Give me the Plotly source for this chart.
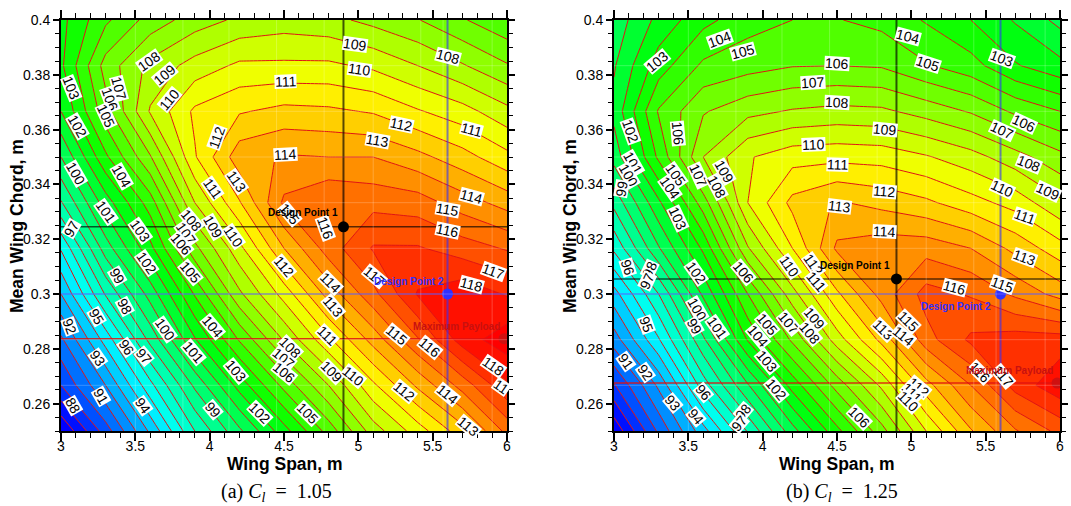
import plotly.graph_objects as go

SPAN = [3.0, 3.3, 3.6, 3.9, 4.2, 4.5, 4.8, 5.1, 5.4, 5.7, 6.0]
CHORD = [0.25, 0.26667, 0.28333, 0.30, 0.31667, 0.33333, 0.35, 0.36667, 0.38333, 0.40]

Z_A = [
    [86, 89.5, 93.2, 97, 99.8, 102.6, 105.4, 108.5, 110.5, 112.6, 115.3],
    [89, 92, 95.7, 99.2, 102.4, 105.3, 108, 110.8, 113.2, 115.4, 117.8],
    [90.8, 94.4, 98.3, 101.9, 105.1, 108.1, 110.8, 113.4, 115.9, 118.5, 119.6],
    [93, 97.1, 100.4, 104.1, 107.8, 110.4, 113.4, 115.7, 118.1, 118.7, 117.9],
    [95.1, 99.5, 102.7, 106.7, 109.7, 113, 115.5, 117.1, 117.1, 116.5, 115.9],
    [97.9, 101.5, 104.5, 109, 111.9, 115.2, 116, 115.7, 115.5, 114.5, 113.6],
    [100, 103.8, 106.9, 110.9, 113.6, 114.1, 114, 114, 113.3, 112.4, 111.3],
    [102, 105.6, 109.1, 111.2, 111.9, 112.3, 112.2, 111.9, 111.1, 110.4, 109.3],
    [102.8, 106.4, 108.3, 109.4, 110.2, 110.2, 110.2, 109.8, 109, 108.1, 107.1],
    [102.7, 104.8, 106.4, 107.5, 108.2, 108.5, 108.3, 107.7, 107.05, 106.1, 105.2],
]
Z_B = [
    [86.2, 90.2, 93.6, 97.1, 100.6, 103.7, 106.6, 110, 112.9, 114.9, 116.3],
    [88.9, 92.2, 96.5, 99.9, 103.4, 106.4, 109.2, 112.6, 115, 117.4, 118.7],
    [91.5, 94.9, 98.8, 103.1, 106.2, 109.5, 112.3, 115.6, 117.2, 117.5, 117.5],
    [93.6, 97, 101.2, 105, 108.6, 111.8, 114.4, 116.4, 115.9, 114.8, 113.6],
    [96.2, 99.9, 103.2, 107.9, 111, 114.2, 114.6, 114.6, 114, 112.7, 111.4],
    [98.3, 101.8, 105.5, 110, 112.3, 113.1, 112.7, 112.2, 111.4, 110.6, 109.2],
    [100.4, 104.2, 108, 109.9, 110.6, 110.7, 110.6, 110.1, 109.4, 108.4, 107.3],
    [101.3, 105.1, 106.9, 107.7, 108.1, 108.3, 108.2, 107.6, 106.9, 105.8, 105],
    [100.9, 103.5, 105.2, 105.6, 105.95, 106, 105.9, 105.1, 104.4, 103.1, 102.3],
    [100.4, 102.3, 103.7, 104.6, 105, 105.05, 104.7, 103.9, 103, 101.9, 100.7],
]

DESIGN1_A = (4.9, 0.3245)
DESIGN2_A = (5.6, 0.30)
MAXPAY_A = (5.98, 0.2837)
DESIGN1_B = (4.9, 0.3055)
DESIGN2_B = (5.6, 0.30)
MAXPAY_B = (5.98, 0.2675)

# text, x, y, angle
LABELS_A = [
    ("108",3.59,.385,-35),("109",3.70,.380,-40),("110",3.73,.371,-50),("111",4.51,.3775,-2),
    ("112",4.05,.357,-70),("112",5.29,.362,12),("113",5.13,.356,10),("113",4.18,.341,55),
    ("111",4.02,.3385,55),("110",4.16,.321,55),("109",4.02,.3245,60),("108",3.88,.327,50),
    ("107",3.84,.322,55),("106",3.81,.318,50),("110",5.01,.382,8),("109",4.98,.391,8),
    ("108",5.60,.3866,15),("111",5.76,.36,15),("107",3.39,.375,75),("106",3.33,.371,70),
    ("105",3.30,.365,65),("104",3.41,.343,60),("103",3.07,.375,68),("103",3.53,.323,55),
    ("102",3.11,.361,60),("101",3.30,.33,55),("100",3.10,.344,60),("97",3.07,.324,-60),
    ("100",3.70,.287,55),("101",3.89,.2785,50),("102",3.58,.3113,55),("103",4.18,.2718,50),
    ("104",4.02,.2882,50),("105",3.87,.3077,50),("105",4.66,.2565,45),("102",4.34,.2565,45),
    ("108",4.54,.2803,45),("107",4.50,.2766,40),("106",4.50,.2712,40),("109",4.82,.2718,45),
    ("110",4.97,.27,40),("111",4.79,.285,45),("112",4.50,.3101,50),("112",5.31,.2645,40),
    ("113",4.83,.2955,50),("113",5.74,.2517,40),("114",4.81,.3041,45),("114",5.6,.2633,40),
    ("115",5.26,.2847,40),("116",5.48,.2803,40),("117",5.11,.3064,40),("117",5.91,.3083,20),
    ("118",5.76,.3034,15),("118",5.91,.2736,35),("11",5.96,.2663,35),("116",5.60,.323,12),
    ("115",5.60,.3307,10),("114",5.76,.3355,15),("114",4.51,.351,-3),("116",4.78,.324,70),
    ("115",4.54,.329,50),("99",3.38,.3064,60),("98",3.43,.2955,62),("97",3.56,.2772,50),
    ("96",3.44,.2803,55),("95",3.24,.2919,60),("94",3.55,.2593,55),("93",3.25,.2766,55),
    ("92",3.06,.2882,70),("91",3.27,.2626,60),("88",3.08,.2593,60),("99",4.02,.2578,50),
]
LABELS_B = [
    ("103",3.29,.385,-40),("104",3.71,.3927,-20),("105",3.87,.3884,-15),("106",4.5,.3842,3),
    ("107",4.34,.3772,-3),("108",4.5,.3698,3),("109",4.82,.3601,5),("110",4.34,.3544,-2),
    ("111",4.5,.3471,2),("112",4.82,.3373,5),("113",4.52,.3319,7),("114",4.82,.3227,3),
    ("104",4.98,.394,15),("105",5.11,.3842,18),("103",5.61,.386,20),("106",5.76,.3623,25),
    ("107",5.61,.3595,25),("108",5.79,.3477,22),("110",5.61,.3386,25),("109",5.92,.3374,25),
    ("111",5.76,.3282,20),("106",3.43,.3586,85),("102",3.11,.3592,70),("101",3.13,.3477,60),
    ("100",3.10,.3434,60),("99",3.05,.3386,-80),("105",3.42,.3434,55),("104",3.38,.3386,55),
    ("103",3.43,.3276,65),("107",3.57,.3434,65),("108",3.69,.3392,62),("109",3.74,.3446,60),
    ("96",3.09,.3095,72),("98",3.24,.3089,-65),("97",3.22,.3047,-65),("102",3.55,.3077,55),
    ("106",3.87,.3077,50),("110",4.18,.3101,55),("112",4.34,.3107,55),("111",4.36,.3047,50),
    ("100",3.56,.2943,60),("99",3.54,.288,60),("101",3.69,.2876,55),("95",3.22,.289,70),
    ("91",3.08,.2754,55),("92",3.21,.2712,55),("93",3.40,.2602,50),("94",3.55,.2553,50),
    ("96",3.6,.2639,50),("98",3.87,.2572,-50),("97",3.84,.2529,-50),("102",4.09,.265,50),
    ("105",4.03,.2888,50),("104",3.97,.2845,50),("103",4.03,.2754,50),("107",4.18,.2894,50),
    ("108",4.32,.2857,50),("109",4.35,.2912,50),("106",4.65,.2548,45),("112",5.05,.2657,40),
    ("111",5.0,.2639,45),("110",4.98,.2608,45),("113",4.81,.287,45),("114",4.95,.2845,40),
    ("115",4.98,.29,45),("116",5.29,.3022,15),("115",5.61,.3034,20),("116",5.46,.2712,45),
    ("117",5.62,.27,50),("113",5.76,.3132,20),
]

MESH_X = [3.5, 3.82, 4.13, 4.45, 4.77, 5.1, 5.42, 5.57, 5.9]
ZMIN, ZMAX = 87.0, 119.0
RAINBOW = [[0, "#0000ff"], [0.25, "#00ffff"], [0.5, "#00ff00"], [0.75, "#ffff00"], [1, "#ff0000"]]
FONT = "Liberation Sans"

W, H = 1071, 506
TOP, BOTTOM = 20, 431
PANELS = [(61, 507), (614, 1060)]
ML, MR, MT, MB = 40, 4, 10, 40
PW, PH = W - ML - MR, H - MT - MB


def xdom(a, b):
    return [(a - ML) / PW, (b - ML) / PW]


YDOM = [(H - MB - BOTTOM) / PH, (H - MB - TOP) / PH]

fig = go.Figure()


def add_panel(idx, z, d1, d2, mp, labels, dy1, dy2, dym, caption, capx, xtx, yty):
    xa, ya = ("x", "y") if idx == 0 else ("x2", "y2")
    fig.add_trace(go.Contour(
        x=SPAN, y=CHORD, z=z, xaxis=xa, yaxis=ya, colorscale=RAINBOW, zmin=ZMIN, zmax=ZMAX,
        showscale=False, autocontour=False, hoverinfo="skip",
        contours=dict(start=80, end=125, size=1, coloring="fill", showlines=True, showlabels=False),
        line=dict(color="#e01414", width=1, smoothing=0),
    ))
    for pt, col, op, w in ((mp, "#e01010", 0.85, 1.5), (d1, "#000000", 0.65, 2), (d2, "#3030ff", 0.6, 2)):
        fig.add_trace(go.Scatter(x=[3, 6], y=[pt[1], pt[1]], xaxis=xa, yaxis=ya, mode="lines",
                                 line=dict(color=col, width=1.5), opacity=op, hoverinfo="skip", showlegend=False))
        if pt is not mp:
            fig.add_trace(go.Scatter(x=[pt[0], pt[0]], y=[0.25, 0.4], xaxis=xa, yaxis=ya, mode="lines",
                                     line=dict(color=col, width=w), opacity=op, hoverinfo="skip", showlegend=False))
    marks = [(mp, "#d01010"), (d1, "#000000"), (d2, "#3030ff")]
    fig.add_trace(go.Scatter(x=[m[0][0] for m in marks], y=[m[0][1] for m in marks], xaxis=xa, yaxis=ya,
                             mode="markers", marker=dict(size=11, color=[m[1] for m in marks]),
                             hoverinfo="skip", showlegend=False))
    for v in MESH_X:
        fig.add_shape(type="line", xref=xa, yref=ya, x0=v, x1=v, y0=0.25, y1=0.4,
                      line=dict(color="white", width=1), opacity=0.22, layer="above")
    for v in CHORD[1:-1]:
        fig.add_shape(type="line", xref=xa, yref=ya, x0=3, x1=6, y0=v, y1=v,
                      line=dict(color="white", width=1), opacity=0.22, layer="above")
    for text, x, y, ang in labels:
        fig.add_annotation(xref=xa, yref=ya, x=x, y=y, text=text, textangle=ang, showarrow=False,
                           height=13, font=dict(family=FONT, size=14, color="black"), bgcolor="white", borderpad=0)
    for text, pos, col in (("Design Point 1", dy1, "black"), ("Design Point 2", dy2, "#3030ff"), ("Maximum Payload", dym, "#c81010")):
        fig.add_annotation(xref=xa, yref=ya, x=pos[0], y=pos[1], text=f"<b>{text}</b>", showarrow=False,
                           font=dict(family=FONT, size=10, color=col))
    for text, x, y, ang in (("Wing Span, m", xtx, 464, 0), ("Mean Wing Chord, m", yty, 226, -90)):
        fig.add_annotation(xref="paper", yref="paper", x=(x - ML) / PW, y=(H - MB - y) / PH, text=f"<b>{text}</b>",
                           xanchor="center", yanchor="middle", textangle=ang, showarrow=False,
                           font=dict(family=FONT, size=17.5, color="black"))
    fig.add_annotation(xref="paper", yref="paper", x=(capx - ML) / PW, y=(H - MB - 493) / PH, text=caption,
                       xanchor="center", yanchor="middle", showarrow=False,
                       font=dict(family="Liberation Serif", size=20, color="black"))


add_panel(0, Z_A, DESIGN1_A, DESIGN2_A, MAXPAY_A, LABELS_A, (4.625, .3297), (5.34, .3046), (5.66, .2882),
          "(a) <i>C<sub>l</sub></i>&nbsp;&nbsp;=&nbsp;&nbsp;1.05", 276, 285, 17)
add_panel(1, Z_B, DESIGN1_B, DESIGN2_B, MAXPAY_B, LABELS_B, (4.62, .3104), (5.30, .2955), (5.66, .2722),
          "(b) <i>C<sub>l</sub></i>&nbsp;&nbsp;=&nbsp;&nbsp;1.25", 842, 837, 570)


def x_axis(dom, anchor):
    return dict(domain=dom, range=[3, 6], dtick=0.5, tick0=3, ticks="outside", ticklen=8, tickwidth=2,
                tickcolor="black", showline=True, linecolor="black", linewidth=2, mirror="ticks",
                showgrid=False, zeroline=False, anchor=anchor, ticklabelstandoff=-7,
                tickfont=dict(family=FONT, size=14, color="black"),
                minor=dict(dtick=0.1, ticks="outside", ticklen=5, tickwidth=1, tickcolor="black", showgrid=False))


def y_axis(anchor):
    return dict(domain=YDOM, range=[0.25, 0.4], dtick=0.02, tick0=0.26, ticks="outside",
                ticklen=6, tickwidth=2, tickcolor="black", showline=True, linecolor="black", linewidth=2,
                mirror="ticks", showgrid=False, zeroline=False, anchor=anchor,
                tickfont=dict(family=FONT, size=14, color="black"),
                minor=dict(dtick=0.005, ticks="outside", ticklen=4, tickwidth=1, tickcolor="black", showgrid=False))


fig.update_layout(
    width=W, height=H, autosize=False,
    margin=dict(l=ML, r=MR, t=MT, b=MB, pad=0, autoexpand=False), paper_bgcolor="white", plot_bgcolor="white",
    showlegend=False,
    xaxis=x_axis(xdom(*PANELS[0]), "y"),
    yaxis=y_axis("x"),
    xaxis2=x_axis(xdom(*PANELS[1]), "y2"),
    yaxis2=y_axis("x2"),
)

fig.write_html("out.html", config={"displayModeBar": False},
               post_script="document.body.style.margin='0';document.body.style.overflow='hidden';")
